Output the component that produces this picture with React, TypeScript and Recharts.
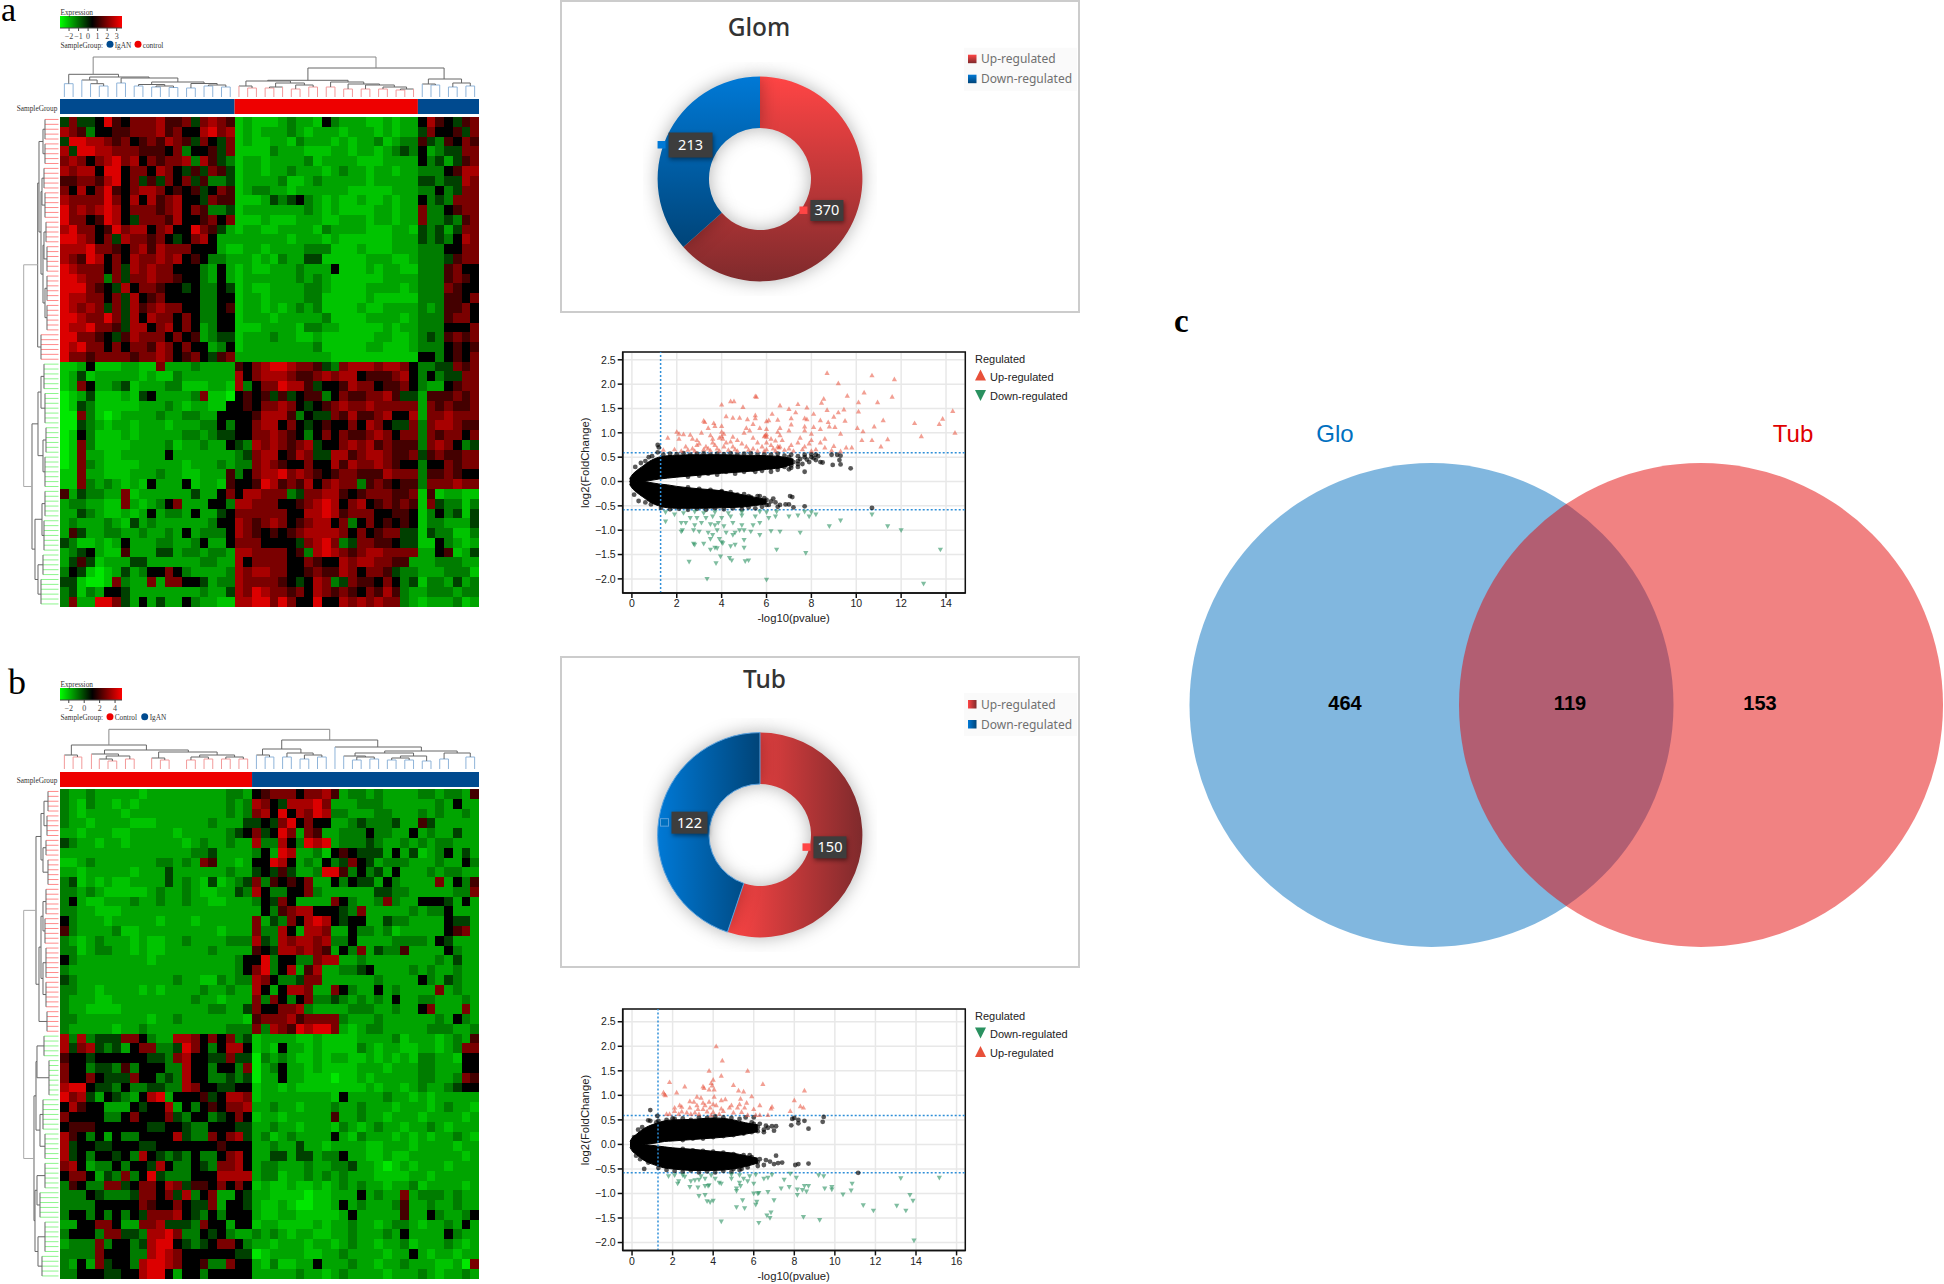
import {
  Area,
  Bar,
  BarChart,
  CartesianGrid,
  Cell,
  ComposedChart,
  Pie,
  PieChart,
  ReferenceArea,
  ReferenceLine,
  Scatter,
  ScatterChart,
  XAxis,
  YAxis,
} from "recharts";

const SANS = "'Liberation Sans', Arial, sans-serif";
const SERIF = "'Liberation Serif', serif";
const NOTO = "'Noto Sans', sans-serif";

const heatPalette = ["#00e800", "#00c400", "#00a400", "#007c00", "#004000", "#000000", "#440000", "#7a0000", "#a80000", "#dc0000"];

// one string per pair of heatmap rows, one digit per column (0 = green ... 5 = black ... 9 = red)
const heatRowsA = [
  "47445965777866747876 121112322153222112122 5865467",
  "87635566777867558978 121222321222122212122 4755647",
  "49988767567687647547 121122132221212231233 6436576",
  "84998877766657355647 111132221112212212343 5234477",
  "78757897857677838643 122122223122221112222 5342467",
  "87885995775875464764 122122322212322122122 3335688",
  "66776895746475746334 122223112322222122222 4434487",
  "75857965788756564576 123322122222211111222 3353477",
  "87777975858678554766 111243453212112112122 5343777",
  "97878985777678576334 122222223212111122122 7335677",
  "97756985477768556757 111211122211222122122 7334367",
  "89775697885785597642 122112222132222111221 4342477",
  "99875748776754578522 222222122212111111222 4343587",
  "88897765786877755521 122122223331112111222 3335577",
  "87698575877878565332 221213224411111222112 3334677",
  "98777574878775553252 121122232225111212211 3336755",
  "99877374778776553252 122222232321111112222 3336765",
  "99976548577655453354 121122223321111222212 3337655",
  "98877574856755553355 122122223311111211111 3336657",
  "98787474867877553356 122121232311112112222 3236675",
  "99877974858775753355 122212222231111222212 3336775",
  "98897764885785752355 111222213322111112122 3335557",
  "99776546877757562344 122232211211111122112 3436767",
  "98977575776875755235 122222222311111221112 3335656",
  "97767777677875675467 222222222221111111111 5535657",
  "11251112211722232222 657899877643788878875 3344767",
  "12412222212113222222 857888766787885666785 3534477",
  "12752234122233111221 835779886455687756675 3225677",
  "01241112145222237110 565646456635766778644 2666767",
  "01431111122232122115 565778754567877877777 2767667",
  "00731012222322332255 556888635447686678558 2778777",
  "00432122122212223353 557885754565575875447 3788766",
  "01531112122222332344 557787653575766787577 3767757",
  "01731111222231223225 438787678455787867666 3787534",
  "01722112222252222222 347885687448867887667 4676677",
  "01732111122222122232 337876557558687787655 3557677",
  "11722111222322112226 357889787656776668777 3667655",
  "11732321215222512216 556986768578773676566 3777877",
  "62433227122222242257 588777347788656777667 1612211",
  "23322117212357222553 887775567898578567676 1743313",
  "22432112125233252245 777777558898677755665 1353414",
  "23222321423222222355 876787567885735756565 1332224",
  "26422332232232523335 876565678888757567744 1433113",
  "43112125222332235225 777555547897347766544 1153212",
  "23452116222442332332 887777563898767887777 2256124",
  "24641222442222223322 857777557655878877662 2233322",
  "35410124235575322223 878877556766875776433 2223331",
  "44100173227277554233 877776545873476657534 1332423",
  "34132554222222223224 879877675876765768632 2333233",
  "37229974252422532211 889979755955878787732 1222312",
];

const heatRowsB = [
  "3223222221222222222332 567775778 62332322223323326",
  "3213221212222222222323 875488897 22233322222232522",
  "3212222122222222222323 785958798 33222332223232232",
  "3221222211122222232224 454795755 22343334226422222",
  "2212221122222122222345 745972762 23335332252322422",
  "4322122122222212322322 833853989 23334322323233222",
  "2222222222222223342222 352982231 56544425241235242",
  "1123222222233232762212 559852325 34754233322232253",
  "2212222212224222222322 454642239 96353425222323322",
  "3412121122224232141234 736565722 53544253222272536",
  "3323211111232232112243 853355732 22222443322222337",
  "3521122232232232211222 354752222 75322373225554252",
  "3322111222222222222222 253678855 54372222232335222",
  "5322212222212221222222 724375898 54552243322225442",
  "6322223112222222221222 733852887 22533231222225672",
  "3212322212112232222333 843878878 33522223333254222",
  "3312332212112222232222 654887876 25372433622225322",
  "5322222222122222222235 593553378 82232222222232422",
  "3222222222222222222235 793582682 23345222232322322",
  "4322222222222322113233 875334772 22222322225324322",
  "3322122221212222322322 852588722 75322523222272322",
  "3222112222222223221222 737535733 43232325223322232",
  "3221111222222222233224 755778322 22333223225722272",
  "3322222222122322222221 677786777 73222322222232532",
  "3222221223222222222333 738769899 72123322222333223",
  "8383444775322887575734 12222112111122223122212326",
  "8478434257733497535885 12152212111132122112212377",
  "6554555555443785544744 03232112122112121213322155",
  "7553443635553385535537 02352212111122212223322255",
  "7557544475534385533434 02252211101121222223322376",
  "8995443533443387554455 12212111111112122123223455",
  "9784254325892555645887 12222222215222232212122222",
  "5865522254558253565778 22322122232232221222123221",
  "7555533575557435534575 12212222262232212221222212",
  "5666555555445543355544 22322122213212322122321222",
  "8653525335555843375784 23123222252132221212122321",
  "8455445554455555556555 22322422122221122212222122",
  "8453554538543435335785 22442442335221121122222212",
  "7852335355485335437785 23322232233422101212221222",
  "5775243735943335558888 23312232323222111122122222",
  "3653377457758746657575 12112112123232212231222212",
  "3335433347757483572254 22111101122252322723332322",
  "3333555557655754472554 21121001125232223622322322",
  "3553535354777854353555 21122111112522222622532235",
  "2255775227784443755255 12211112122322123321223252",
  "3555377443889733545322 32321221122322232522225322",
  "2333735534899543457753 22122212212322122312223212",
  "3333755533898755555544 01222211223222212252122122",
  "3252745538998755633755 21311225222322122322211207",
  "3355544558995255355555 22222322123222212223212232",
];

const sampleSegmentsA = [20, 21, 7];
const sampleColorsA = ["#004a8f", "#ee0000", "#004a8f"];
const sampleSegmentsB = [22, 26];
const sampleColorsB = ["#ee0000", "#004a8f"];

// column tree links: left col, right col, height, left child height, right child height
const colLinksA = [
  [0.5, 1.5, 13.3, 0, 0], [4.5, 5.5, 11, 0, 0], [3.5, 5, 13.3, 0, 11], [2.5, 4.25, 17, 0, 13.3], [6.5, 7.5, 14, 0, 0],
  [8.5, 9.5, 11, 0, 0], [10.5, 11.5, 10, 0, 0], [12.5, 13.5, 9.5, 0, 0], [11, 13, 11, 10, 9.5], [9, 12, 12.5, 11, 11],
  [14.5, 15.5, 9, 0, 0], [16.5, 17.5, 11, 0, 0], [18.5, 19.5, 10, 0, 0], [17, 19, 12, 11, 10], [15, 18, 13.5, 9, 12],
  [10.5, 16.5, 15, 12.5, 13.5], [7, 13.5, 19, 14, 15], [3.4, 10.2, 20, 17, 19], [1, 6.7, 22.7, 13.3, 20],
  [21.5, 22.5, 9, 0, 0], [20.5, 22, 11, 0, 9], [23.5, 24.5, 9, 0, 0], [24, 25.5, 10, 9, 0], [26.5, 27.5, 8, 0, 0],
  [28.5, 29.5, 10, 0, 0], [27, 29, 12, 8, 10], [24.7, 28, 14, 10, 12], [21.3, 26.4, 16, 11, 14], [30.5, 31.5, 10, 0, 0],
  [32.5, 33.5, 8, 0, 0], [34.5, 35.5, 8, 0, 0], [36.5, 37.5, 8, 0, 0], [38.5, 39.5, 7, 0, 0], [39, 40.5, 8, 7, 0],
  [37, 39.7, 10, 8, 8], [35, 38.3, 12, 8, 10], [33, 36.6, 13, 8, 12], [31, 34.8, 15, 10, 13], [23.8, 33, 16.7, 16, 15],
  [42.5, 43.5, 12, 0, 0], [41.5, 43, 13, 0, 12], [44.5, 45.5, 10, 0, 0], [46.5, 47.5, 11, 0, 0], [45, 47, 14, 10, 11],
  [42.2, 46, 18, 13, 14], [28.4, 44, 29, 16.7, 18], [3.8, 36.2, 40, 22.7, 29],
];

const colLinksB = [
  [1.5, 2.5, 12, 0, 0], [0.5, 2, 14, 0, 12], [5.5, 6.5, 8, 0, 0], [4.5, 6, 10, 0, 8], [7.5, 8.5, 10, 0, 0],
  [5.3, 8, 13, 10, 10], [3.6, 6.7, 15, 0, 13], [11.5, 12.5, 9, 0, 0], [10.5, 12, 11, 0, 9], [14.5, 15.5, 9, 0, 0],
  [16.5, 17.5, 10, 0, 0], [15, 17, 12, 9, 10], [18.5, 19.5, 10, 0, 0], [20.5, 21.5, 10, 0, 0], [19, 21, 12, 10, 10],
  [16, 20, 14, 12, 12], [11.3, 18, 17, 11, 14], [5.1, 14.7, 19, 15, 17], [1.3, 9.9, 24, 14, 19],
  [23.5, 24.5, 12, 0, 0], [22.5, 24, 14, 0, 12], [25.5, 26.5, 12, 0, 0], [27.5, 28.5, 10, 0, 0], [29.5, 30.5, 12, 0, 0],
  [28, 30, 14, 10, 12], [26, 29, 16, 12, 14], [23.2, 27.6, 20, 14, 16], [33.5, 34.5, 9, 0, 0], [35.5, 36.5, 10, 0, 0],
  [34, 36, 12, 9, 10], [32.5, 35, 13, 0, 12], [37.5, 38.5, 9, 0, 0], [39.5, 40.5, 9, 0, 0], [38, 40, 11, 9, 9],
  [41.5, 42.5, 8, 0, 0], [39, 42, 13, 11, 8], [33.8, 40.5, 16, 13, 13], [43.5, 44.5, 10, 0, 0], [46.5, 47.5, 12, 0, 0],
  [44, 47, 16, 10, 12], [37.2, 45.5, 18, 16, 16], [31.5, 41.4, 22, 0, 18], [25.4, 36.4, 29, 20, 22], [5.6, 30.9, 39.7, 24, 29],
];

// row leaf groups: first row, last row, spine depth
const rowGroupsA = [
  [0, 4, 45], [5, 9, 45], [10, 14, 44], [15, 20, 45], [21, 25, 46], [26, 31, 47], [32, 37, 47], [38, 43, 47], [44, 49, 41],
  [50, 55, 44], [56, 62, 45], [63, 68, 46], [69, 75, 45], [76, 81, 45], [82, 88, 44], [89, 93, 43], [94, 99, 41],
];
// row tree links: top row, bottom row, spine depth, top child depth, bottom child depth
const rowLinksA = [
  [2, 7, 43, 45, 45], [12, 17.5, 42, 44, 45], [23, 28.5, 44, 46, 47], [34.5, 40.5, 45, 47, 47], [25.7, 37.5, 43, 44, 45],
  [14.75, 31.6, 41, 42, 43], [4.5, 23, 39, 43, 41], [13, 46.5, 37.7, 39, 41], [52.5, 59, 41, 44, 45], [65.5, 72, 43, 46, 45],
  [55.7, 68.7, 38, 41, 43], [78.5, 85, 42, 45, 44], [91, 97, 38, 43, 41], [81.7, 94, 35, 42, 38], [62.2, 87.8, 32, 38, 35],
  [29.7, 75, 23.7, 37.7, 32],
];
const rowGroupsB = [
  [0, 4, 48], [5, 9, 47], [10, 13, 46], [14, 19, 48], [20, 25, 46], [26, 31, 45], [32, 38, 46], [39, 44, 46], [45, 49, 47],
  [50, 54, 44], [55, 62, 49], [63, 69, 43], [70, 75, 45], [76, 81, 45], [82, 87, 40], [88, 94, 45], [95, 99, 42],
];
const rowLinksB = [
  [2, 7, 44, 48, 47], [11.5, 16.5, 43, 46, 48], [4.5, 14, 41, 44, 43], [22.5, 28.5, 43, 46, 45], [35, 41.5, 43, 46, 46],
  [25.5, 38.2, 41, 43, 43], [31.8, 47, 39, 41, 47], [9.2, 39.4, 36, 41, 39], [52, 58.5, 37, 44, 49], [66, 72.5, 40, 43, 45],
  [55.2, 69.2, 36, 37, 40], [78.5, 84.5, 37, 45, 40], [91, 97, 38, 45, 42], [81.5, 94, 35, 37, 38], [62.2, 87.7, 34, 36, 35],
  [24.3, 75, 23.7, 36, 34],
];

// wedges of the dense black cloud: x, low, high (lower wedge shares the x values of the upper one)
const cloudUpperA = [[-0.1, 0, 0.06], [0, 0, 0.13], [0.2, 0, 0.22], [0.5, 0, 0.32], [0.8, 0.02, 0.42], [1.2, 0.05, 0.5], [1.6, 0.07, 0.53], [2, 0.09, 0.54], [3, 0.13, 0.55], [4, 0.17, 0.55], [5, 0.2, 0.54], [6, 0.25, 0.53], [6.8, 0.3, 0.5], [7.2, 0.36, 0.46]];
const cloudLowerA = [[-0.1, -0.06, 0], [0, -0.13, 0], [0.2, -0.22, 0], [0.5, -0.32, 0], [0.8, -0.42, -0.02], [1.2, -0.5, -0.05], [1.6, -0.54, -0.07], [2, -0.55, -0.1], [3, -0.55, -0.15], [4, -0.54, -0.19], [5, -0.52, -0.28], [6, -0.46, -0.37]];
const cloudUpperB = [[-0.1, 0, 0.06], [0, 0, 0.13], [0.2, 0, 0.2], [0.5, 0, 0.3], [0.8, 0.01, 0.37], [1.2, 0.03, 0.43], [1.6, 0.06, 0.48], [2, 0.07, 0.5], [3, 0.1, 0.51], [4, 0.13, 0.54], [5, 0.17, 0.5], [5.6, 0.21, 0.44], [6.2, 0.26, 0.4]];
const cloudLowerB = [[-0.1, -0.06, 0], [0, -0.13, 0], [0.2, -0.2, 0], [0.5, -0.3, 0], [0.8, -0.37, -0.01], [1.2, -0.43, -0.03], [1.6, -0.48, -0.05], [2, -0.5, -0.07], [3, -0.53, -0.1], [4, -0.53, -0.14], [5, -0.5, -0.18], [5.6, -0.45, -0.23], [6.2, -0.38, -0.28]];

const blackA = [[1.15, 0.75], [1.2, 0.7], [1.15, 0.6], [0.9, 0.52], [0.75, 0.5], [8.9, 0.55], [9.15, 0.55], [9.3, 0.53], [9.25, 0.44], [8.95, 0.34], [9.3, 0.35], [9.75, 0.27], [7.7, 0.2], [8.4, 0.4], [8.5, 0.39], [8, 0.5], [7.9, 0.4], [7.4, 0.42], [7.4, 0.3], [6.9, 0.38], [10.7, -0.54], [7.7, -0.51], [7.2, -0.53], [7, -0.47], [6.85, -0.47], [7.15, -0.32], [7.05, -0.3], [6.6, -0.48], [6.4, -0.43], [6.3, -0.35], [6, -0.38], [5.9, -0.42], [5.7, -0.3], [5.5, -0.42], [5.2, -0.3], [5, -0.35], [4.9, -0.5], [4, -0.2], [3.9, -0.3], [0.85, -0.47], [0.6, -0.43], [0.1, -0.27], [0.3, -0.4], [0.15, 0.3], [0.4, 0.38], [0.6, 0.42], [6.5, 0.5], [7, 0.5], [7.7, 0.5], [8.2, 0.55], [6.2, 0.2], [5.5, 0.2], [7, 0.25], [6.5, 0.3],
  [1.4, 0.55], [1.7, 0.57], [2, 0.56], [2.3, 0.58], [2.6, 0.55], [2.9, 0.57], [3.2, 0.58], [3.5, 0.55], [3.8, 0.57], [4.1, 0.56], [4.4, 0.58], [4.7, 0.55], [5, 0.57], [5.3, 0.58], [5.6, 0.55], [5.9, 0.56], [6.2, 0.55], [6.5, 0.57], [6.8, 0.53], [7.1, 0.55], [7.4, 0.52], [7.7, 0.55], [8, 0.56], [2.5, 0.1], [3, 0.12], [3.4, 0.16], [3.8, 0.14], [4.2, 0.2], [4.6, 0.16], [5, 0.2], [5.4, 0.24], [5.8, 0.22], [6.2, 0.28], [6.5, 0.24], [6.8, 0.3], [7.1, 0.28], [7.4, 0.36], [6.3, 0.4], [6.6, 0.42], [6.9, 0.44], [7.2, 0.4], [7.5, 0.46], [7.8, 0.45], [8.1, 0.48], [8.3, 0.52], [6.7, 0.35], [7.1, 0.33], [7.6, 0.36], [8.2, 0.44],
  [1.3, -0.54], [1.7, -0.57], [2.1, -0.56], [2.5, -0.58], [2.9, -0.56], [3.3, -0.58], [3.7, -0.55], [4.1, -0.57], [4.5, -0.55], [4.9, -0.57], [5.2, -0.53], [5.5, -0.55], [5.8, -0.52], [6.1, -0.48], [6.5, -0.52], [2.5, -0.12], [3, -0.15], [3.5, -0.17], [4, -0.22], [4.4, -0.22], [4.7, -0.27], [5, -0.26], [5.3, -0.32], [5.6, -0.3], [5.9, -0.34], [5.3, -0.45], [5.6, -0.38], [6, -0.48], [6.2, -0.41]];
const upA = [[8.7, 2.23], [10.7, 2.18], [11.7, 2.1], [9.2, 2.02], [10.35, 1.83], [9.6, 1.76], [8.55, 1.7], [8.45, 1.62], [5.5, 1.75], [5.55, 1.74], [4.4, 1.65], [4.55, 1.65], [4, 1.58], [4.95, 1.53], [6.6, 1.56], [7.4, 1.59], [7, 1.49], [7.8, 1.52], [10.1, 1.63], [10.95, 1.63], [11.6, 1.74], [8.7, 1.47], [9.45, 1.48], [9.2, 1.42], [10.1, 1.44], [7.3, 1.42], [8.1, 1.39], [6.25, 1.39], [5.5, 1.36], [4.2, 1.34], [4.5, 1.31], [4.8, 1.31], [5.15, 1.28], [5.5, 1.3], [6, 1.24], [6.1, 1.26], [3.2, 1.25], [3.25, 1.22], [3.65, 1.2], [6.5, 1.27], [7.1, 1.3], [7.7, 1.3], [7.8, 1.28], [8.4, 1.26], [8.75, 1.22], [9, 1.33], [9.5, 1.25], [11.2, 1.26], [3.4, 1.1], [3.7, 1.14], [4, 1.14], [5.1, 1.1], [5.4, 1.18], [5.7, 1.1], [6, 1.08], [6.6, 1.1], [7.1, 1.17], [7.7, 1.13], [8.1, 1.12], [8.8, 1.13], [9.05, 1.12], [10.05, 1.1], [10.8, 1.13], [12.6, 1.2], [13.7, 1.18], [13.85, 1.29], [14.3, 1.45], [14.4, 1], [2, 1.02], [2.1, 0.98], [2.3, 0.97], [2.6, 0.96], [3.1, 1], [3.5, 0.95], [4, 1.02], [4.5, 0.92], [5, 1], [5.25, 1.05], [5.9, 0.93], [6, 0.92], [6.5, 1.02], [7, 1.05], [7.7, 1.05], [8, 0.98], [8.4, 1.08], [9.3, 0.98], [10.3, 1.03], [12.9, 0.93], [1.6, 0.9], [2.1, 0.88], [2.7, 0.88], [2.9, 0.85], [3.6, 0.88], [4.05, 0.88], [4.7, 0.85], [5.4, 0.9], [6.2, 0.88], [6.7, 0.85], [7.5, 0.9], [8, 0.85], [8.6, 0.88], [10.25, 0.85], [10.7, 0.85], [11.4, 0.87], [2.4, 0.72], [2.9, 0.75], [3.3, 0.72], [3.7, 0.75], [4.2, 0.8], [4.5, 0.72], [5.1, 0.72], [5.8, 0.72], [6.2, 0.75], [6.6, 0.72], [7.1, 0.75], [7.7, 0.72], [8.4, 0.8], [9, 0.73], [9.55, 0.7], [9.8, 0.7], [11.1, 0.72], [1.4, 0.65], [1.9, 0.66], [2.2, 0.63], [2.5, 0.65], [2.8, 0.63], [3.2, 0.66], [3.5, 0.64], [3.9, 0.63], [4.3, 0.65], [4.7, 0.63], [5.2, 0.65], [5.6, 0.63], [6, 0.66], [6.4, 0.63], [6.8, 0.65], [7.2, 0.63], [7.6, 0.66], [8, 0.63], [8.9, 0.64], [9.3, 0.62],
  [2.7, 0.68], [3, 0.78], [3.4, 0.68], [3.6, 0.8], [3.8, 0.68], [4.1, 0.72], [4.4, 0.82], [4.6, 0.66], [4.9, 0.78], [5.4, 0.68], [5.6, 0.8], [5.9, 0.63], [6, 0.8], [6.3, 0.68], [6.4, 0.84], [6.5, 0.72], [6.6, 0.95], [6.55, 0.7], [5.95, 0.95], [6, 0.97], [7, 0.68], [7.4, 0.8], [7.9, 0.78], [8.2, 0.66], [8.6, 0.7], [4, 0.93], [4.1, 0.98], [3.9, 0.9]];
const downA = [[13, -2.1], [3.35, -2], [6, -2.02], [2.55, -1.65], [3.75, -1.68], [3.95, -1.54], [4.35, -1.57], [4.45, -1.62], [5.05, -1.64], [5.2, -1.62], [13.75, -1.4], [6.45, -1.4], [7.75, -1.47], [5, -1.36], [3.5, -1.4], [3.7, -1.36], [3.8, -1.37], [4.4, -1.33], [4.6, -1.3], [2.8, -1.3], [2.75, -1.28], [3.2, -1.28], [4, -1.25], [5, -1.2], [4.05, -1.27], [3.5, -1.18], [3.9, -1.18], [4.5, -1.1], [4.6, -1.05], [2.2, -1.03], [2.25, -1], [2.75, -1], [3, -1.03], [3.4, -1.05], [3.6, -1.1], [3.8, -1], [4.2, -1.05], [4.8, -1], [5, -1], [5.3, -1.03], [5.7, -1.1], [6.2, -1.02], [6.6, -1.03], [7.5, -1.05], [8.8, -0.92], [9.3, -0.8], [11.4, -0.92], [12, -1], [10.7, -0.68], [2.2, -0.85], [2.4, -0.85], [2.8, -0.9], [3.1, -0.85], [3.5, -0.88], [3.7, -0.9], [3.85, -0.85], [4.1, -0.92], [4.5, -0.85], [4.9, -0.9], [5.4, -0.9], [5.7, -0.85], [1.5, -0.82], [2.6, -0.75], [2.9, -0.75], [3.3, -0.75], [3.6, -0.72], [4, -0.75], [4.4, -0.72], [4.9, -0.7], [5.5, -0.72], [6.1, -0.75], [6.4, -0.72], [7, -0.72], [7.4, -0.7], [7.9, -0.72], [8.2, -0.68], [1.5, -0.63], [1.9, -0.68], [2.3, -0.65], [2.8, -0.62], [3.2, -0.65], [3.7, -0.63], [4.3, -0.65], [4.9, -0.63], [5.7, -0.62], [6, -0.63], [6.45, -0.62], [7.7, -0.62], [8, -0.63]];

const blackB = [[0.9, 0.7], [1.25, 0.58], [0.8, 0.49], [0.9, 0.48], [1.2, 0.45], [7.9, 0.52], [8, 0.54], [8.2, 0.5], [8.5, 0.48], [7.85, 0.39], [8.2, 0.43], [8.7, 0.32], [9.45, 0.56], [9.4, 0.46], [7.1, 0.37], [6.9, 0.37], [6.5, 0.3], [6.6, 0.38], [6.2, 0.35], [6, 0.42], [5.7, 0.33], [6, 0.55], [11.15, -0.58], [8.7, -0.39], [8.05, -0.42], [8.2, -0.4], [7.4, -0.37], [7.2, -0.38], [7.1, -0.23], [7, -0.4], [6.8, -0.35], [6.6, -0.32], [6.3, -0.3], [6.2, -0.44], [6.1, -0.35], [5.8, -0.22], [5.7, -0.4], [5.4, -0.5], [5, -0.5], [0.6, -0.5], [0.8, -0.37], [0.4, -0.3], [0.2, -0.23], [0.1, 0.15], [0.3, 0.3], [0.5, 0.35], [2, 0.53],
  [1.3, 0.48], [1.7, 0.5], [2.1, 0.52], [2.5, 0.53], [2.9, 0.5], [3.3, 0.55], [3.7, 0.54], [4.1, 0.57], [4.5, 0.55], [4.9, 0.54], [5.3, 0.52], [5.6, 0.55], [5.9, 0.45], [6.3, 0.42], [6.7, 0.34], [7, 0.28], [2.5, 0.09], [3, 0.12], [3.5, 0.12], [4, 0.15], [4.5, 0.17], [5, 0.19], [5.5, 0.22], [5.9, 0.25], [6.2, 0.27], [6.5, 0.25],
  [1.3, -0.48], [1.7, -0.52], [2.1, -0.54], [2.5, -0.56], [2.9, -0.53], [3.3, -0.57], [3.7, -0.55], [4.1, -0.57], [4.5, -0.54], [4.9, -0.56], [5.3, -0.52], [5.7, -0.47], [6.2, -0.36], [6.5, -0.42], [2.5, -0.09], [3, -0.12], [3.5, -0.13], [4, -0.15], [4.5, -0.17], [5, -0.2], [5.5, -0.22], [5.9, -0.26]];
const upB = [[4.15, 2], [4.45, 1.71], [3.8, 1.5], [5.7, 1.5], [4.4, 1.4], [4, 1.32], [3.9, 1.25], [1.85, 1.27], [6.45, 1.23], [5, 1.21], [2.6, 1.18], [3.5, 1.18], [3.55, 1.15], [3.95, 1.2], [3.8, 1.12], [4.05, 1.12], [5.25, 1.1], [5.5, 1.08], [8.5, 1.1], [2.2, 1.06], [1.55, 1.06], [1.6, 1.02], [1.65, 1], [5.9, 0.98], [3.2, 0.97], [3.4, 0.95], [4.05, 0.97], [4.4, 0.9], [4.6, 0.92], [5.35, 0.93], [5.65, 0.85], [8, 0.9], [2.85, 0.88], [3.05, 0.87], [3.5, 0.85], [3.8, 0.87], [3.2, 0.8], [3.6, 0.8], [4, 0.82], [4.15, 0.8], [4.9, 0.8], [5.3, 0.82], [6.3, 0.8], [6.9, 0.77], [6.85, 0.73], [8.3, 0.78], [8.45, 0.75], [2.1, 0.75], [2.35, 0.8], [2.45, 0.77], [2.85, 0.75], [3.25, 0.72], [3.5, 0.72], [3.85, 0.75], [4.4, 0.73], [4.8, 0.75], [5.2, 0.75], [5.55, 0.75], [6, 0.72], [7.8, 0.68], [2.1, 0.68], [2.45, 0.67], [2.7, 0.65], [3.1, 0.65], [3.7, 0.67], [4, 0.66], [4.5, 0.68], [5, 0.65], [5.4, 0.66], [1.7, 0.62], [1.85, 0.62], [2.3, 0.62], [2.9, 0.62], [3.3, 0.62], [3.9, 0.6], [4.3, 0.62], [5.7, 0.6], [6.1, 0.6], [6.3, 0.6], [6.7, 0.6]];
const downB = [[13.9, -1.96], [4.4, -1.57], [6.25, -1.6], [9.25, -1.54], [6.65, -1.45], [6.8, -1.5], [6.85, -1.39], [8.45, -1.48], [5.15, -1.28], [5.55, -1.3], [6.1, -1.23], [5.45, -1.14], [6.15, -1.17], [7, -1.14], [11.4, -1.24], [11.9, -1.35], [13.05, -1.25], [13.5, -1.35], [13.85, -1.15], [13.7, -1.03], [13.25, -0.69], [15.15, -0.68], [3.7, -1.16], [3.85, -1.18], [4, -1.15], [3.3, -1.05], [3.6, -1.03], [6, -1], [6.2, -1], [6.7, -0.97], [6.25, -0.99], [7.35, -0.9], [7.75, -0.87], [8.15, -1.03], [8.15, -0.92], [8.4, -0.93], [8.5, -0.85], [8.7, -0.85], [8.6, -0.96], [9.5, -0.9], [9.85, -0.92], [9.85, -0.87], [10.4, -1.02], [10.8, -0.94], [10.85, -0.8], [5.15, -0.9], [5.15, -0.95], [5.35, -0.85], [3.6, -0.85], [3.8, -0.83], [3.75, -0.85], [2.85, -0.87], [3.25, -0.88], [4.3, -0.78], [4.4, -0.8], [5.3, -0.78], [5.7, -0.75], [6, -0.8], [2.25, -0.8], [2.3, -0.75], [2.9, -0.75], [3.1, -0.73], [3.3, -0.72], [3.6, -0.7], [4.1, -0.7], [4.9, -0.7], [5.5, -0.7], [6.5, -0.7], [6.7, -0.68], [7.5, -0.72], [7.8, -0.6], [8.1, -0.68], [9.2, -0.63], [9.45, -0.65], [1.8, -0.65], [2.1, -0.63], [2.5, -0.63], [2.6, -0.66], [3.4, -0.65], [3.9, -0.63], [4.9, -0.62], [5.3, -0.63], [5.8, -0.65], [6.1, -0.62], [6.9, -0.62]];

const volcanoYTicks = [-2, -1.5, -1, -0.5, 0, 0.5, 1, 1.5, 2, 2.5];
const volcanoXTicksA = [0, 2, 4, 6, 8, 10, 12, 14];
const volcanoXTicksB = [0, 2, 4, 6, 8, 10, 12, 14, 16];

const pieNames = ["Up-regulated", "Down-regulated"];
const glomValues = [370, 213];
const tubValues = [150, 122];

const vennSets = ["Glo", "Tub"];
const vennColors = ["#036fbf", "#e30505"];
const vennCounts = ["464", "119", "153"];

const HEAT_W = 419;
const HEAT_H = 489.4;
const toPoints = (list) => list.map(([x, y]) => ({ x, y }));
const minus = (v) => String(v).replace("-", "\u2212");

function heatCells(rows) {
  const cells = [];
  rows.forEach((row, r) => {
    const digits = row.replace(/ /g, "").padEnd(48, "2").slice(0, 48);
    for (let c = 0; c < 48; c++) cells.push({ x: c + 0.5, y: r + 0.5, v: Number(digits[c]) });
  });
  return cells;
}

function Heatmap({ rows, left, top }) {
  const cw = HEAT_W / 48;
  const ch = HEAT_H / rows.length;
  const Cell2 = ({ cx, cy, payload }) => (
    <rect x={cx - cw / 2} y={cy - ch / 2} width={cw + 0.4} height={ch + 0.4} fill={heatPalette[payload.v]} shapeRendering="crispEdges" />
  );
  return (
    <div style={{ position: "absolute", left, top }}>
      <ScatterChart width={HEAT_W} height={HEAT_H} margin={{ top: 0, right: 0, bottom: 0, left: 0 }}>
        <XAxis type="number" dataKey="x" domain={[0, 48]} hide />
        <YAxis type="number" dataKey="y" domain={[0, rows.length]} reversed hide />
        <Scatter data={heatCells(rows)} shape={Cell2} isAnimationActive={false} />
      </ScatterChart>
    </div>
  );
}

function SampleBar({ segments, colors, left, top }) {
  const row = [Object.fromEntries(segments.map((s, i) => [`s${i}`, s]))];
  return (
    <div style={{ position: "absolute", left, top }}>
      <BarChart width={HEAT_W} height={15} data={row} layout="vertical" barCategoryGap={0} margin={{ top: 0, right: 0, bottom: 0, left: 0 }}>
        <XAxis type="number" domain={[0, 48]} hide />
        <YAxis type="category" hide />
        {segments.map((_, i) => (
          <Bar key={i} dataKey={`s${i}`} stackId="g" fill={colors[i]} isAnimationActive={false} />
        ))}
      </BarChart>
    </div>
  );
}

function ColTree({ links, left, top, leafColor }) {
  const maxH = 42;
  const kx = HEAT_W / 48;
  const data = links.map(([x, x2, y, ha, hb]) => ({ x, x2, y, ha, hb }));
  const Link = ({ cx, cy, payload: p }) => {
    const w = (p.x2 - p.x) * kx;
    const ya = cy + (p.y - p.ha);
    const yb = cy + (p.y - p.hb);
    const gray = p.y > 35 ? "#888" : "#666";
    return (
      <g fill="none" strokeWidth={1}>
        <path d={`M${cx},${cy}H${cx + w}`} stroke={p.ha === 0 && p.hb === 0 ? leafColor(p.x) : gray} />
        <path d={`M${cx},${cy}V${ya}`} stroke={p.ha === 0 ? leafColor(p.x) : gray} />
        <path d={`M${cx + w},${cy}V${yb}`} stroke={p.hb === 0 ? leafColor(p.x2) : gray} />
      </g>
    );
  };
  return (
    <div style={{ position: "absolute", left, top }}>
      <ScatterChart width={HEAT_W} height={maxH} margin={{ top: 0, right: 0, bottom: 0, left: 0 }}>
        <XAxis type="number" dataKey="x" domain={[0, 48]} hide />
        <YAxis type="number" dataKey="y" domain={[0, maxH]} hide />
        <Scatter data={data} shape={Link} isAnimationActive={false} />
      </ScatterChart>
    </div>
  );
}

function RowTree({ groups, links, top }) {
  const ky = HEAT_H / 100;
  const leaves = [];
  groups.forEach(([a, b, depth]) => {
    for (let r = a; r <= b; r++) leaves.push({ x: depth, y: r + 0.5, end: r === b, span: b - a });
  });
  const Leaf = ({ cx, cy, payload: p }) => (
    <g fill="none" strokeWidth={1}>
      <path d={`M${cx},${cy}H58.5`} stroke={p.y < 50 ? "#ff8a8a" : "#8cf58c"} />
      {p.end && <path d={`M${cx},${cy}V${cy - p.span * ky}`} stroke="#666" />}
    </g>
  );
  const data = links.map(([a, b, depth, da, db]) => ({ x: depth, y: a + 0.5, b: b + 0.5, da, db }));
  const Link = ({ cx, cy, payload: p }) => {
    const y2 = cy + (p.b - p.y) * ky;
    const root = p.x < 24;
    return (
      <path
        d={`M${p.da},${cy}H${cx}V${y2}H${p.db}`}
        fill="none"
        stroke={root ? "#aaa" : "#666"}
        strokeWidth={1}
      />
    );
  };
  return (
    <div style={{ position: "absolute", left: 0, top }}>
      <ScatterChart width={60} height={HEAT_H} margin={{ top: 0, right: 0, bottom: 0, left: 0 }}>
        <XAxis type="number" dataKey="x" domain={[0, 60]} hide />
        <YAxis type="number" dataKey="y" domain={[0, 100]} reversed hide />
        <Scatter data={leaves} shape={Leaf} isAnimationActive={false} />
        <Scatter data={data} shape={Link} isAnimationActive={false} />
      </ScatterChart>
    </div>
  );
}

function ColorBar({ id, domain, ticks, blackAt, left, top }) {
  const anchor = [{ x: domain[0], y: 0 }, { x: domain[1], y: 1 }];
  return (
    <div style={{ position: "absolute", left, top }}>
      <ComposedChart width={62} height={30} data={anchor} margin={{ top: 0, right: 0, bottom: 0, left: 0 }}>
        <defs>
          <linearGradient id={id} x1="0" x2="1" y1="0" y2="0">
            <stop offset="0" stopColor="#00ff00" />
            <stop offset={blackAt} stopColor="#000000" />
            <stop offset="1" stopColor="#ff0000" />
          </linearGradient>
        </defs>
        <XAxis
          type="number"
          dataKey="x"
          domain={domain}
          ticks={ticks}
          height={18}
          tickSize={3}
          stroke="#444"
          interval={0}
          tickFormatter={minus}
          tick={{ fontFamily: SERIF, fontSize: 8, fill: "#444" }}
        />
        <YAxis type="number" dataKey="y" domain={[0, 1]} hide />
        <ReferenceArea x1={domain[0]} x2={domain[1]} y1={0} y2={1} fill={`url(#${id})`} fillOpacity={1} stroke="none" ifOverflow="visible" />
      </ComposedChart>
    </div>
  );
}

function PieLabelBox({ cx, cy, midAngle, innerRadius, outerRadius, index, value, sizes, dx, dy, marks }) {
  const rad = (Math.PI / 180) * midAngle;
  const r = (innerRadius + outerRadius) / 2;
  const bx = cx + r * Math.cos(rad) + dx[index];
  const by = cy - r * Math.sin(rad) + dy[index];
  const [w, h] = sizes[index];
  const mark = marks[index];
  return (
    <g>
      <rect x={bx - w / 2 - 11} y={by - 4} width={8} height={7.5} fill={mark.fill} stroke={mark.stroke} />
      <rect x={bx - w / 2} y={by - h / 2} width={w} height={h} fill="#3d3d3d" style={{ filter: "drop-shadow(1px 2px 2px rgba(0,0,0,.45))" }} />
      <text x={bx} y={by + 5} textAnchor="middle" fill="#fff" fontFamily={NOTO} fontSize={14.5}>
        {value}
      </text>
    </g>
  );
}

function Donut({ values, left, top, gradId, vertical, sizes, dx, dy, blueStroke, marks }) {
  const data = values.map((v, i) => ({ name: pieNames[i], v }));
  const dir = vertical ? { x1: 0, x2: 0, y1: 0, y2: 1 } : { x1: 0, x2: 1, y1: 0, y2: 0 };
  return (
    <div style={{ position: "absolute", left, top }}>
      <PieChart width={234} height={234} margin={{ top: 0, right: 0, bottom: 0, left: 0 }} style={{ overflow: "visible" }}>
        <defs>
          <linearGradient id={`${gradId}r`} {...dir}>
            <stop offset="0" stopColor="#ff4545" />
            <stop offset="1" stopColor="#7f2a2c" />
          </linearGradient>
          <linearGradient id={`${gradId}b`} {...dir}>
            <stop offset="0" stopColor="#0079d6" />
            <stop offset="1" stopColor="#004478" />
          </linearGradient>
        </defs>
        <Pie
          data={data}
          dataKey="v"
          cx={117}
          cy={117}
          innerRadius={51}
          outerRadius={102.4}
          startAngle={90}
          endAngle={-270}
          stroke="none"
          labelLine={false}
          style={{ filter: "drop-shadow(0 0 9px rgba(0,0,0,.3))" }}
          label={(p) => <PieLabelBox {...p} value={values[p.index]} sizes={sizes} dx={dx} dy={dy} marks={marks} />}
          isAnimationActive={false}
        >
          <Cell fill={`url(#${gradId}r)`} stroke="none" />
          <Cell fill={`url(#${gradId}b)`} stroke={blueStroke} strokeWidth={blueStroke === "none" ? 0 : 1} />
        </Pie>
      </PieChart>
    </div>
  );
}

function Volcano({ left, top, plotH, xDomain, yDomain, xTicks, upper, lower, black, up, down }) {
  const rows = upper.map((u, i) => ({ x: u[0], upper: [u[1], u[2]], lower: lower[i] ? [lower[i][1], lower[i][2]] : null }));
  const Tri = ({ cx, cy }) => <polygon points={`${cx},${cy - 2.7} ${cx + 2.6},${cy + 2} ${cx - 2.6},${cy + 2}`} fill="#e8503a" fillOpacity={0.55} />;
  const TriDown = ({ cx, cy }) => <polygon points={`${cx},${cy + 2.7} ${cx + 2.6},${cy - 2} ${cx - 2.6},${cy - 2}`} fill="#2a9160" fillOpacity={0.6} />;
  const Dot = ({ cx, cy }) => <circle cx={cx} cy={cy} r={2.4} fill="#000" fillOpacity={0.65} />;
  const guide = { stroke: "#2f8fd8", strokeDasharray: "2 2", strokeWidth: 1.5 };
  return (
    <div style={{ position: "absolute", left, top }}>
      <ComposedChart width={410} height={plotH + 48} data={rows} margin={{ top: 12, right: 14.7, bottom: 16, left: 22.7 }}>
        <CartesianGrid stroke="#e8e8e8" strokeWidth={1.5} />
        <XAxis
          type="number"
          dataKey="x"
          domain={xDomain}
          ticks={xTicks}
          height={20}
          interval={0}
          tickSize={5}
          stroke="#111"
          strokeWidth={1.5}
          tick={{ fontFamily: SANS, fontSize: 10.5, fill: "#222" }}
        />
        <YAxis
          type="number"
          dataKey="y"
          domain={yDomain}
          ticks={volcanoYTicks}
          width={30}
          interval={0}
          tickSize={5}
          stroke="#111"
          strokeWidth={1.5}
          tickFormatter={(v) => minus(v.toFixed(1))}
          tick={{ fontFamily: SANS, fontSize: 10.5, fill: "#222" }}
        />
        <Area dataKey="upper" type="monotone" fill="#000" fillOpacity={1} stroke="#000" isAnimationActive={false} dot={false} activeDot={false} />
        <Area dataKey="lower" type="monotone" fill="#000" fillOpacity={1} stroke="#000" isAnimationActive={false} dot={false} activeDot={false} />
        <Scatter data={toPoints(black)} shape={Dot} isAnimationActive={false} />
        <Scatter data={toPoints(up)} shape={Tri} isAnimationActive={false} />
        <Scatter data={toPoints(down)} shape={TriDown} isAnimationActive={false} />
        <ReferenceLine x={1.28} {...guide} />
        <ReferenceLine y={0.59} {...guide} />
        <ReferenceLine y={-0.58} {...guide} />
        <ReferenceArea x1={xDomain[0]} x2={xDomain[1]} y1={yDomain[0]} y2={yDomain[1]} fill="none" stroke="#111" strokeWidth={1.5} ifOverflow="visible" />
      </ComposedChart>
    </div>
  );
}

function Venn() {
  const circleX = [251.5, 521];
  const numberX = [165, 390, 580];
  const radius = 242;
  const sets = vennSets.map((name, i) => ({ x: circleX[i], y: 288, name, fill: vennColors[i] }));
  const counts = vennCounts.map((label, i) => ({ x: numberX[i], y: 286, label }));
  const Ring = ({ cx, cy, payload }) => <circle cx={cx} cy={cy} r={radius} fill={payload.fill} fillOpacity={0.5} />;
  const Count = ({ cx, cy, payload }) => (
    <text x={cx} y={cy + 7} textAnchor="middle" fontFamily={SANS} fontWeight="bold" fontSize={20} fill="#000">
      {payload.label}
    </text>
  );
  return (
    <div style={{ position: "absolute", left: 1180, top: 417 }}>
      <ScatterChart width={764} height={576} margin={{ top: 0, right: 0, bottom: 0, left: 0 }}>
        <XAxis type="number" dataKey="x" domain={[0, 764]} hide />
        <YAxis type="number" dataKey="y" domain={[0, 576]} reversed hide />
        <Scatter data={sets} shape={Ring} isAnimationActive={false} />
        <Scatter data={counts} shape={Count} isAnimationActive={false} />
      </ScatterChart>
    </div>
  );
}

function PieLegend({ top, gradId, vertical }) {
  const dir = vertical ? { x1: 0, x2: 0, y1: 0, y2: 1 } : { x1: 0, x2: 1, y1: 0, y2: 0 };
  return (
    <g>
      <defs>
        <linearGradient id={`${gradId}lr`} {...dir}>
          <stop offset="0" stopColor="#ff4545" />
          <stop offset="1" stopColor="#7f2a2c" />
        </linearGradient>
        <linearGradient id={`${gradId}lb`} {...dir}>
          <stop offset="0" stopColor="#0079d6" />
          <stop offset="1" stopColor="#004478" />
        </linearGradient>
      </defs>
      <rect x={964} y={top} width={113} height={43} fill="#fafafa" />
      <rect x={968} y={top + 7} width={8.5} height={8.5} fill={`url(#${gradId}lr)`} />
      <rect x={968} y={top + 27} width={8.5} height={8.5} fill={`url(#${gradId}lb)`} />
      <text x={981} y={top + 15.5} fontFamily={NOTO} fontSize={12} fill="#707070">{pieNames[0]}</text>
      <text x={981} y={top + 35.5} fontFamily={NOTO} fontSize={12} fill="#707070">{pieNames[1]}</text>
    </g>
  );
}

function VolcanoLegend({ top, first }) {
  const mark = (y, isUp) =>
    isUp ? (
      <polygon points={`980.5,${y - 6} 986,${y + 5} 975,${y + 5}`} fill="#e8503a" />
    ) : (
      <polygon points={`980.5,${y + 6} 986,${y - 5} 975,${y - 5}`} fill="#2a9160" />
    );
  const names = first === "up" ? ["Up-regulated", "Down-regulated"] : ["Down-regulated", "Up-regulated"];
  return (
    <g fontFamily={SANS} fontSize={11} fill="#222">
      <text x={975} y={top}>Regulated</text>
      {mark(top + 12.5, first === "up")}
      <text x={990} y={top + 18}>{names[0]}</text>
      {mark(top + 32, first !== "up")}
      <text x={990} y={top + 37}>{names[1]}</text>
    </g>
  );
}

function Annotations() {
  const small = { fontFamily: SERIF, fontSize: 7.3, fill: "#333" };
  const axis = { fontFamily: SANS, fontSize: 11.3, fill: "#222" };
  return (
    <svg width={1944} height={1284} style={{ position: "absolute", left: 0, top: 0, pointerEvents: "none" }}>
      <text x={1} y={21} fontFamily={SERIF} fontSize={34}>a</text>
      <text x={8} y={694} fontFamily={SERIF} fontSize={36}>b</text>
      <text x={1174} y={332} fontFamily={SERIF} fontWeight="bold" fontSize={33}>c</text>

      <text x={60.5} y={14.5} {...small}>Expression</text>
      <text x={60.5} y={47.5} {...small}>SampleGroup:</text>
      <circle cx={110} cy={44.3} r={3.5} fill="#004a8f" />
      <text x={114.7} y={47.5} {...small}>IgAN</text>
      <circle cx={138} cy={44.3} r={3.5} fill="#ee0000" />
      <text x={142.7} y={47.5} {...small}>control</text>
      <text x={57.3} y={110.5} textAnchor="end" {...small}>SampleGroup</text>

      <text x={60.5} y={686.5} {...small}>Expression</text>
      <text x={60.5} y={720} {...small}>SampleGroup:</text>
      <circle cx={110} cy={716.7} r={3.5} fill="#ee0000" />
      <text x={114.7} y={720} {...small}>Control</text>
      <circle cx={144.7} cy={716.7} r={3.5} fill="#004a8f" />
      <text x={149.7} y={720} {...small}>IgAN</text>
      <text x={57.3} y={782.5} textAnchor="end" {...small}>SampleGroup</text>

      <text x={759} y={36} textAnchor="middle" fontFamily={NOTO} fontWeight={500} fontSize={24.5} fill="#333">Glom</text>
      <text x={764.5} y={688.3} textAnchor="middle" fontFamily={NOTO} fontWeight={500} fontSize={24.5} fill="#333">Tub</text>
      <PieLegend top={47.7} gradId="lg1" vertical />
      <PieLegend top={693} gradId="lg2" vertical={false} />

      <text x={793.7} y={622} textAnchor="middle" {...axis}>-log10(pvalue)</text>
      <text x={793.7} y={1280} textAnchor="middle" {...axis}>-log10(pvalue)</text>
      <text transform="translate(589,462.7) rotate(-90)" textAnchor="middle" {...axis}>log2(FoldChange)</text>
      <text transform="translate(589,1120) rotate(-90)" textAnchor="middle" {...axis}>log2(FoldChange)</text>
      <VolcanoLegend top={363} first="up" />
      <VolcanoLegend top={1020} first="down" />

      <text x={1335} y={442} textAnchor="middle" fontFamily={SANS} fontSize={24} fill="#0070c0">{vennSets[0]}</text>
      <text x={1793} y={442} textAnchor="middle" fontFamily={SANS} fontSize={24} fill="#e00000">{vennSets[1]}</text>
    </svg>
  );
}

export default function App() {
  return (
    <div style={{ position: "absolute", left: 0, top: 0, width: 1944, height: 1284, background: "#fff", overflow: "hidden" }}>
      <div style={{ position: "absolute", left: 560, top: 0, width: 516, height: 309, border: "2px solid #ccc" }} />
      <div style={{ position: "absolute", left: 560, top: 656, width: 516, height: 308, border: "2px solid #ccc" }} />

      <ColorBar id="cbA" domain={[-2.95, 3.56]} ticks={[-2, -1, 0, 1, 2, 3]} blackAt={0.52} left={60.3} top={16} />
      <ColTree links={colLinksA} left={60.3} top={55} leafColor={(c) => (c > 20 && c < 41 ? "#f29a9a" : "#8fb4d9")} />
      <SampleBar segments={sampleSegmentsA} colors={sampleColorsA} left={60.3} top={99.3} />
      <RowTree groups={rowGroupsA} links={rowLinksA} top={117.3} />
      <Heatmap rows={heatRowsA} left={60.3} top={117.3} />

      <ColorBar id="cbB" domain={[-3.14, 4.9]} ticks={[-2, 0, 2, 4]} blackAt={0.52} left={60.3} top={688} />
      <ColTree links={colLinksB} left={60.3} top={727} leafColor={(c) => (c < 22 ? "#f29a9a" : "#8fb4d9")} />
      <SampleBar segments={sampleSegmentsB} colors={sampleColorsB} left={60.3} top={771.7} />
      <RowTree groups={rowGroupsB} links={rowLinksB} top={789.3} />
      <Heatmap rows={heatRowsB} left={60.3} top={789.3} />

      <Donut
        values={glomValues}
        left={642.5}
        top={62}
        gradId="gl"
        vertical
        sizes={[[33, 21], [44, 25]]}
        dx={[-3, 0.5]}
        dy={[0, -2.5]}
        blueStroke="none"
        marks={[{ fill: "#ff4545", stroke: "none" }, { fill: "#0079d6", stroke: "none" }]}
      />
      <Donut
        values={tubValues}
        left={642.5}
        top={718}
        gradId="tb"
        vertical={false}
        sizes={[[33, 22], [36, 22]]}
        dx={[-5.7, 5.2]}
        dy={[0, 0]}
        blueStroke="#5aa0dc"
        marks={[{ fill: "#ff4545", stroke: "none" }, { fill: "#0070c0", stroke: "#5aa0dc" }]}
      />

      <Volcano left={570} top={340} plotH={241} xDomain={[-0.41, 14.86]} yDomain={[-2.29, 2.66]} xTicks={volcanoXTicksA} upper={cloudUpperA} lower={cloudLowerA} black={blackA} up={upA} down={downA} />
      <Volcano left={570} top={997.3} plotH={241.4} xDomain={[-0.46, 16.43]} yDomain={[-2.16, 2.76]} xTicks={volcanoXTicksB} upper={cloudUpperB} lower={cloudLowerB} black={blackB} up={upB} down={downB} />

      <Venn />
      <Annotations />
    </div>
  );
}
